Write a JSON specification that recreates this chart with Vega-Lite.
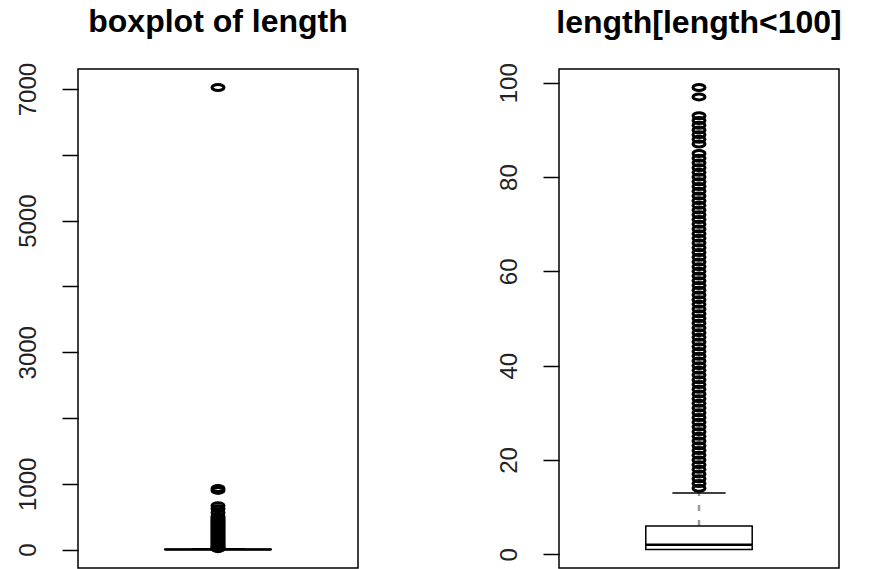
{
  "$schema": "https://vega.github.io/schema/vega-lite/v6.json",
  "background": "white",
  "padding": {"left": 15, "top": 5, "right": 5, "bottom": 2},
  "config": {
    "font": "Liberation Sans",
    "view": {"stroke": "black", "strokeWidth": 1.5},
    "axis": {"grid": false, "domain": false, "tickColor": "black", "tickWidth": 1.5, "tickSize": 16, "labelPadding": 22, "labelFontSize": 24, "labelColor": "#222", "labelFont": "Liberation Sans", "labelAngle": -90, "labelAlign": "center", "labelBaseline": "bottom", "title": null},
    "title": {"fontSize": 32, "fontWeight": "bold", "font": "Liberation Sans", "color": "black", "anchor": "middle", "offset": 23}
  },
  "datasets": {
    "box_all": [{"q1": 1, "median": 2, "q3": 6, "lo": 1, "hi": 13}],
    "out_all": [
      {"value": 7025}, {"value": 930}, {"value": 900}, {"value": 668}, {"value": 620}, {"value": 560},
      {"value": 505}, {"value": 490}, {"value": 470}, {"value": 455}, {"value": 440}, {"value": 425}, {"value": 410}, {"value": 395}, {"value": 380}, {"value": 365}, {"value": 350}, {"value": 335}, {"value": 320}, {"value": 305}, {"value": 290}, {"value": 275}, {"value": 260}, {"value": 245}, {"value": 230}, {"value": 215}, {"value": 200}, {"value": 185}, {"value": 170}, {"value": 155}, {"value": 140}, {"value": 125}, {"value": 110}, {"value": 95}, {"value": 80}, {"value": 65}, {"value": 50}, {"value": 40}, {"value": 30}, {"value": 22}, {"value": 14}
    ],
    "box_sub": [{"q1": 1, "median": 2, "q3": 6, "lo": 1, "hi": 13}],
    "out_sub": [
      {"value": 99}, {"value": 97}, {"value": 93}, {"value": 92}, {"value": 91}, {"value": 90}, {"value": 89}, {"value": 88}, {"value": 87}, {"value": 85}, {"value": 84}, {"value": 83}, {"value": 82}, {"value": 81}, {"value": 80}, {"value": 79}, {"value": 78}, {"value": 77}, {"value": 76}, {"value": 75}, {"value": 74}, {"value": 73}, {"value": 72}, {"value": 71}, {"value": 70}, {"value": 69}, {"value": 68}, {"value": 67}, {"value": 66}, {"value": 65}, {"value": 64}, {"value": 63}, {"value": 62}, {"value": 61}, {"value": 60}, {"value": 59}, {"value": 58}, {"value": 57}, {"value": 56}, {"value": 55}, {"value": 54}, {"value": 53}, {"value": 52}, {"value": 51}, {"value": 50}, {"value": 49}, {"value": 48}, {"value": 47}, {"value": 46}, {"value": 45}, {"value": 44}, {"value": 43}, {"value": 42}, {"value": 41}, {"value": 40}, {"value": 39}, {"value": 38}, {"value": 37}, {"value": 36}, {"value": 35}, {"value": 34}, {"value": 33}, {"value": 32}, {"value": 31}, {"value": 30}, {"value": 29}, {"value": 28}, {"value": 27}, {"value": 26}, {"value": 25}, {"value": 24}, {"value": 23}, {"value": 22}, {"value": 21}, {"value": 20}, {"value": 19}, {"value": 18}, {"value": 17}, {"value": 16}, {"value": 15}, {"value": 14}
    ]
  },
  "spacing": 137,
  "hconcat": [
    {
      "title": "boxplot of length",
      "width": 280,
      "height": 499,
      "layer": [
        {
          "data": {"name": "box_all"},
          "mark": {"type": "rule", "stroke": "#999", "strokeWidth": 2.5, "strokeDash": [6, 9]},
          "encoding": {
            "x": {"datum": 0.5, "type": "quantitative", "scale": {"domain": [0, 1]}, "axis": null},
            "y": {"field": "q3", "type": "quantitative", "scale": {"domain": [-280, 7306], "nice": false, "zero": false},
                  "axis": {"values": [0, 1000, 2000, 3000, 4000, 5000, 6000, 7000], "format": "d", "labelExpr": "indexof([2000,4000,6000], datum.value) >= 0 ? '' : datum.label"}},
            "y2": {"field": "hi"}
          }
        },
        {
          "data": {"name": "box_all"},
          "mark": {"type": "rect", "fill": "white", "stroke": "black", "strokeWidth": 1.5},
          "encoding": {
            "x": {"datum": 0.31, "type": "quantitative"},
            "x2": {"datum": 0.69},
            "y": {"field": "q1", "type": "quantitative"},
            "y2": {"field": "q3"}
          }
        },
        {
          "data": {"name": "box_all"},
          "mark": {"type": "rule", "stroke": "black", "strokeWidth": 2.5},
          "encoding": {
            "x": {"datum": 0.31, "type": "quantitative"},
            "x2": {"datum": 0.69},
            "y": {"field": "median", "type": "quantitative"}
          }
        },
        {
          "data": {"name": "box_all"},
          "mark": {"type": "rule", "stroke": "black", "strokeWidth": 1.5},
          "encoding": {
            "x": {"datum": 0.405, "type": "quantitative"},
            "x2": {"datum": 0.595},
            "y": {"field": "hi", "type": "quantitative"}
          }
        },
        {
          "data": {"name": "out_all"},
          "mark": {"type": "point", "filled": false, "stroke": "black", "strokeWidth": 3, "opacity": 1, "size": 144, "shape": "M -1 0 A 1 0.5 0 1 0 1 0 A 1 0.5 0 1 0 -1 0 Z"},
          "encoding": {
            "x": {"datum": 0.5, "type": "quantitative"},
            "y": {"field": "value", "type": "quantitative"}
          }
        }
      ]
    },
    {
      "title": "length[length<100]",
      "width": 280,
      "height": 499,
      "layer": [
        {
          "data": {"name": "box_sub"},
          "mark": {"type": "rule", "stroke": "#999", "strokeWidth": 2.5, "strokeDash": [6, 9]},
          "encoding": {
            "x": {"datum": 0.5, "type": "quantitative", "scale": {"domain": [0, 1]}, "axis": null},
            "y": {"field": "q3", "type": "quantitative", "scale": {"domain": [-2.92, 102.92], "nice": false, "zero": false},
                  "axis": {"values": [0, 20, 40, 60, 80, 100], "format": "d"}},
            "y2": {"field": "hi"}
          }
        },
        {
          "data": {"name": "box_sub"},
          "mark": {"type": "rect", "fill": "white", "stroke": "black", "strokeWidth": 1.5},
          "encoding": {
            "x": {"datum": 0.31, "type": "quantitative"},
            "x2": {"datum": 0.69},
            "y": {"field": "q1", "type": "quantitative"},
            "y2": {"field": "q3"}
          }
        },
        {
          "data": {"name": "box_sub"},
          "mark": {"type": "rule", "stroke": "black", "strokeWidth": 2.5},
          "encoding": {
            "x": {"datum": 0.31, "type": "quantitative"},
            "x2": {"datum": 0.69},
            "y": {"field": "median", "type": "quantitative"}
          }
        },
        {
          "data": {"name": "box_sub"},
          "mark": {"type": "rule", "stroke": "black", "strokeWidth": 1.5},
          "encoding": {
            "x": {"datum": 0.405, "type": "quantitative"},
            "x2": {"datum": 0.595},
            "y": {"field": "hi", "type": "quantitative"}
          }
        },
        {
          "data": {"name": "out_sub"},
          "mark": {"type": "point", "filled": false, "stroke": "black", "strokeWidth": 3, "opacity": 1, "size": 144, "shape": "M -1 0 A 1 0.5 0 1 0 1 0 A 1 0.5 0 1 0 -1 0 Z"},
          "encoding": {
            "x": {"datum": 0.5, "type": "quantitative"},
            "y": {"field": "value", "type": "quantitative"}
          }
        }
      ]
    }
  ]
}
